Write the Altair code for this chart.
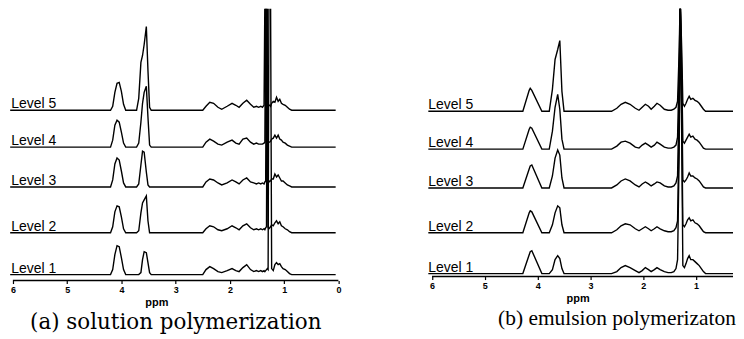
import altair as alt
import pandas as pd

levels = ["Level 1", "Level 2", "Level 3", "Level 4", "Level 5"]

# ---------------- panel (a): solution polymerization ----------------
ppm_a = [6.05,
         4.20, 4.16, 4.12, 4.08, 4.04, 4.00, 3.96, 3.92,
         3.72, 3.68, 3.64, 3.61, 3.58, 3.54, 3.51, 3.48, 3.45,
         2.50, 2.44, 2.37, 2.30, 2.22, 2.15, 2.05, 1.96, 1.89, 1.83, 1.76, 1.69, 1.62, 1.56, 1.51, 1.47, 1.43,
         1.40, 1.37, 1.355, 1.34, 1.325, 1.31, 1.295, 1.28, 1.265, 1.25, 1.23,
         1.20, 1.17, 1.14, 1.11, 1.08, 1.05, 1.02, 0.98, 0.94, 0.90, 0.86,
         0.05]

a_level1 = [0,
            0, 5, 20, 29, 28, 17, 5, 0,
            0, 0, 2, 15, 23, 22, 12, 2, 0,
            0, 5, 8, 6, 3, 2, 4, 6, 4, 3, 7, 10, 5, 3, 4, 3, 4,
            3, 4, 3, 4, 5, 6, 5, 280, 280, 278, 6,
            4, 10, 12, 10, 11, 8, 6, 5, 3, 1, 0,
            0]
a_level2 = [0,
            0, 6, 21, 27, 26, 16, 4, 0,
            0, 2, 20, 30, 33, 37, 12, 0, 0,
            0, 4, 7, 6, 3, 2, 4, 7, 5, 3, 7, 9, 5, 3, 4, 3, 4,
            3, 4, 3, 5, 6, 236, 5, 4, 5, 6, 8,
            7, 10, 12, 9, 11, 7, 6, 4, 3, 1, 0,
            0]
a_level3 = [0,
            0, 7, 23, 29, 27, 16, 4, 0,
            0, 3, 22, 36, 35, 15, 2, 0, 0,
            0, 5, 8, 7, 4, 2, 4, 7, 5, 3, 7, 9, 5, 4, 3, 4, 3,
            4, 3, 5, 6, 190, 5, 4, 5, 6, 6, 8,
            8, 13, 10, 12, 9, 6, 6, 4, 2, 1, 0,
            0]
a_level4 = [0,
            0, 7, 22, 27, 25, 15, 4, 0,
            0, 4, 25, 44, 55, 61, 30, 2, 0,
            0, 5, 8, 6, 3, 2, 5, 7, 4, 3, 8, 9, 5, 3, 4, 3, 3,
            3, 4, 5, 150, 5, 4, 4, 5, 5, 6, 8,
            9, 12, 9, 12, 8, 7, 5, 4, 2, 1, 0,
            0]
a_level5 = [0,
            0, 4, 18, 27, 28, 19, 6, 0,
            0, 12, 48, 55, 66, 84, 40, 3, 0,
            0, 4, 8, 7, 3, 1, 4, 7, 5, 3, 7, 10, 6, 3, 4, 3, 4,
            3, 5, 112, 5, 4, 3, 4, 5, 5, 4, 7,
            9, 8, 13, 9, 11, 7, 6, 5, 3, 1, 0,
            0]
offsets_a = [0, 42, 88, 128, 165]
ticks_a = [6, 5, 4, 3, 2, 1, 0]
axis_span_a = [6.0, 0.0]

# ---------------- panel (b): emulsion polymerization ----------------
ppm_b = [6.07,
         4.28, 4.16, 4.14, 4.11, 3.92,
         3.78, 3.72, 3.67, 3.62, 3.58, 3.54, 3.50,
         2.60, 2.50, 2.42, 2.34, 2.25, 2.15, 2.08, 2.02, 1.96, 1.90, 1.85, 1.79, 1.74, 1.68, 1.60, 1.53, 1.47, 1.42, 1.38,
         1.35, 1.32, 1.30, 1.27, 1.25,
         1.22, 1.19, 1.16, 1.13, 1.10, 1.06, 1.02, 0.98, 0.94, 0.90, 0.86, 0.82,
         0.30]

b_level1 = [0,
            0, 19, 22, 23, 0,
            0, 4, 14, 18, 15, 5, 0,
            0, 2, 6, 8, 6, 3, 1, 3, 6, 4, 2, 4, 6, 4, 2, 1, 1, 2, 5,
            14, 120, 275, 130, 8,
            6, 10, 15, 18, 14, 14, 12, 10, 8, 5, 2, 0,
            0]
b_level2 = [0,
            0, 20, 22, 21, 0,
            0, 8, 20, 27, 25, 8, 0,
            0, 3, 7, 9, 8, 4, 2, 4, 6, 4, 2, 4, 6, 4, 2, 1, 1, 2, 5,
            12, 110, 235, 110, 8,
            6, 9, 13, 15, 12, 13, 10, 9, 7, 4, 1, 0,
            0]
b_level3 = [0,
            0, 19, 22, 23, 0,
            0, 12, 30, 38, 33, 10, 0,
            0, 3, 7, 9, 7, 3, 1, 4, 6, 4, 2, 4, 6, 5, 2, 1, 1, 2, 5,
            12, 95, 190, 95, 8,
            6, 8, 11, 15, 12, 12, 10, 9, 7, 4, 1, 0,
            0]
b_level4 = [0,
            0, 20, 22, 21, 0,
            0, 18, 42, 55, 40, 10, 0,
            0, 3, 7, 8, 6, 2, 1, 4, 6, 4, 2, 4, 7, 5, 2, 1, 1, 2, 4,
            12, 80, 150, 75, 8,
            6, 9, 12, 15, 12, 13, 10, 9, 7, 4, 1, 0,
            0]
b_level5 = [0,
            0, 21, 23, 21, 0,
            0, 22, 52, 62, 71, 20, 0,
            0, 3, 7, 9, 7, 3, 1, 4, 7, 5, 2, 5, 8, 6, 2, 1, 1, 2, 4,
            10, 60, 115, 60, 8,
            5, 8, 12, 15, 12, 13, 11, 10, 8, 5, 2, 0,
            0]
offsets_b = [0, 41, 86, 125, 163]
ticks_b = [6, 5, 4, 3, 2, 1]
axis_span_b = [6.0, 0.30]


def build(ppm, series, offsets):
    rows = []
    for lvl, heights, off in zip(levels, series, offsets):
        for i, (p, h) in enumerate(zip(ppm, heights)):
            rows.append({"level": lvl, "i": i, "ppm": p, "y": h + off})
    return pd.DataFrame(rows)


def panel(ppm, series, offsets, ticks, span, xdom, ydom, width, height,
          label_ppm, caption, cap_font, cap_size, cap_dx, title_x):
    df = build(ppm, series, offsets)
    lab = pd.DataFrame({"level": levels, "ppm": [label_ppm] * 5, "y": offsets})
    ax = pd.DataFrame({"ppm": [span[0]], "ppm_end": [span[1]]})
    xscale = alt.Scale(domain=xdom, nice=False, zero=False)
    yscale = alt.Scale(domain=ydom, nice=False, zero=False)
    xaxis = alt.Axis(values=ticks, format="d", domain=False, grid=False,
                     tickSize=3, tickColor="black", tickWidth=1.2,
                     labelFont="Liberation Sans", labelFontSize=9,
                     labelFontWeight="bold", labelColor="black", labelPadding=2,
                     title="ppm", titleFont="Liberation Sans", titleFontSize=11,
                     titleFontWeight="bold", titleColor="black", titlePadding=2,
                     titleX=title_x)
    lines = alt.Chart(df).mark_line(color="black", strokeWidth=1.4, clip=True).encode(
        x=alt.X("ppm:Q", scale=xscale, axis=xaxis, title="ppm"),
        y=alt.Y("y:Q", scale=yscale, axis=None),
        detail="level:N",
        order="i:Q",
    )
    labels = alt.Chart(lab).mark_text(align="left", baseline="alphabetic", dy=-2,
                                      font="Liberation Sans", fontSize=14,
                                      color="black").encode(
        x=alt.X("ppm:Q", title="ppm"),
        y=alt.Y("y:Q", axis=None),
        text="level:N",
    )
    axline = alt.Chart(ax).mark_rule(color="black", strokeWidth=1.4).encode(
        x=alt.X("ppm:Q", title="ppm"),
        x2="ppm_end:Q",
        y=alt.value(height),
    )
    return alt.layer(lines, labels, axline).properties(
        width=width, height=height,
        title=alt.TitleParams(caption, orient="bottom", font=cap_font,
                              fontSize=cap_size, fontWeight="normal",
                              color="black", dx=cap_dx, offset=5),
    )


pa = panel(ppm_a, [a_level1, a_level2, a_level3, a_level4, a_level5], offsets_a,
           ticks_a, axis_span_a, [6.09, -0.06], [-6, 267], 335, 273,
           6.03, "(a) solution polymerization", "DejaVu Serif", 21.5, 1, 149)
pb = panel(ppm_b, [b_level1, b_level2, b_level3, b_level4, b_level5], offsets_b,
           ticks_b, axis_span_b, [6.09, 0.30], [-3, 266], 307, 269,
           6.07, "(b) emulsion polymerizaton", "Liberation Serif", 21.5, 37, 151)

chart = alt.hconcat(pa, pb, spacing=86).properties(
    padding={"left": 0, "top": 0, "right": 0, "bottom": 0},
    background="white",
).configure_view(stroke=None)

chart.save("out.html", embed_options={"renderer": "svg", "actions": False})
